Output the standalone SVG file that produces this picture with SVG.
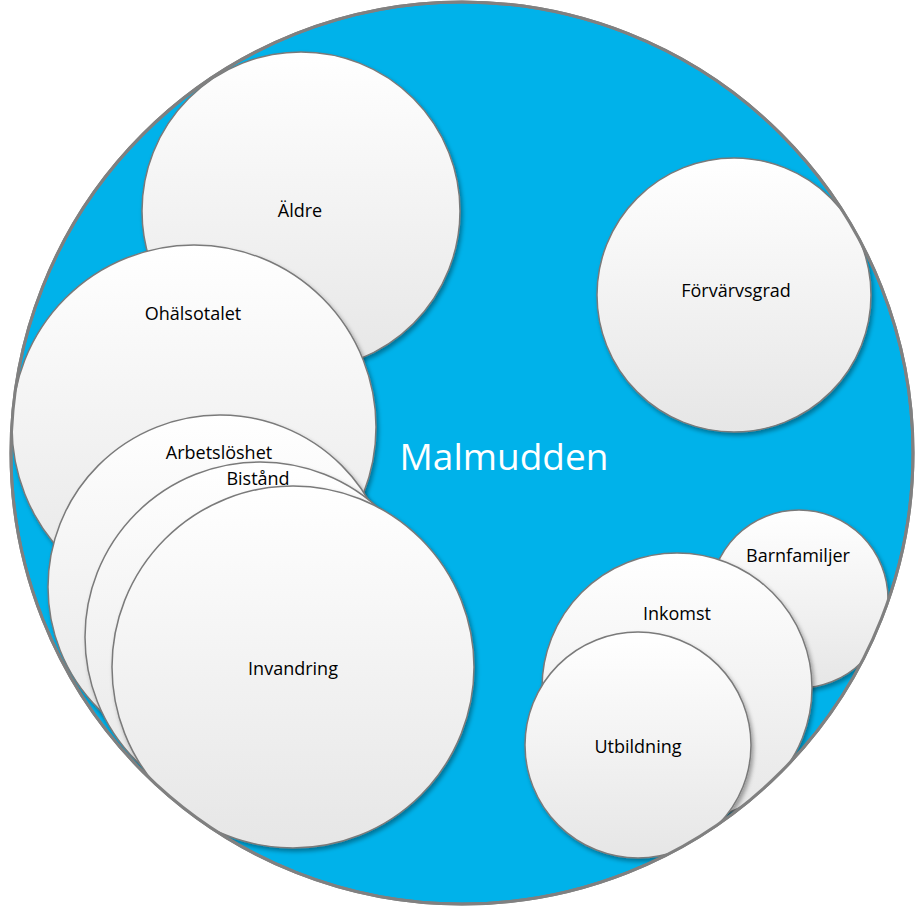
<svg xmlns="http://www.w3.org/2000/svg" width="923" height="908" viewBox="0 0 923 908">
<defs>
<linearGradient id="g" x1="0" y1="0" x2="0" y2="1">
<stop offset="0" stop-color="#ffffff"/>
<stop offset="1" stop-color="#e6e6e6"/>
</linearGradient>
<filter id="sh" x="-10%" y="-10%" width="125%" height="125%">
<feDropShadow dx="2" dy="3" stdDeviation="2" flood-color="#000" flood-opacity="0.35"/>
</filter>
<clipPath id="big"><circle cx="462" cy="453" r="451"/></clipPath>
</defs>
<style>
.n{fill:url(#g);stroke:#7a7a7a;stroke-width:1.5;filter:url(#sh)}
.t{font-family:"Open Sans","Noto Sans",sans-serif;font-size:18px;fill:#000;text-anchor:middle}
</style>
<g id="malmudden">
<circle cx="462" cy="453" r="451" fill="#00b2ea" stroke="#808080" stroke-width="3"/>
<text x="504" y="470" font-family="'Open Sans','Noto Sans',sans-serif" font-size="37" fill="#ffffff" text-anchor="middle">Malmudden</text>
</g>
<g clip-path="url(#big)">
<g id="aldre"><circle class="n" cx="301" cy="211" r="159"/><text class="t" x="300" y="217">Äldre</text></g>
<g id="forvarvsgrad"><circle class="n" cx="734" cy="295" r="137"/><text class="t" x="736" y="297">Förvärvsgrad</text></g>
<g id="ohalsotalet"><circle class="n" cx="194" cy="427" r="182"/><text class="t" x="193" y="320">Ohälsotalet</text></g>
<g id="arbetsloshet"><circle class="n" cx="220" cy="587" r="172"/><text class="t" x="219" y="459">Arbetslöshet</text></g>
<g id="bistand"><circle class="n" cx="260" cy="637" r="175"/><text class="t" x="258" y="485">Bistånd</text></g>
<g id="invandring"><circle class="n" cx="293" cy="667" r="181"/><text class="t" x="293" y="675">Invandring</text></g>
<g id="barnfamiljer"><circle class="n" cx="799" cy="599" r="89"/><text class="t" x="798" y="562">Barnfamiljer</text></g>
<g id="inkomst"><circle class="n" cx="677" cy="688" r="135"/><text class="t" x="677" y="620">Inkomst</text></g>
<g id="utbildning"><circle class="n" cx="638" cy="745" r="113"/><text class="t" x="638" y="753">Utbildning</text></g>
</g>
<circle cx="462" cy="453" r="451" fill="none" stroke="#808080" stroke-width="3"/>
</svg>
